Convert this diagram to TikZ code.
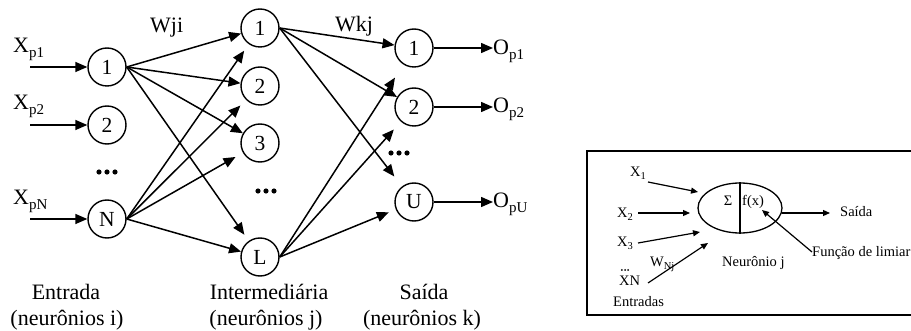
\documentclass[tikz,border=0pt]{standalone}
\usepackage{fontspec}
\setmainfont{Liberation Serif}
\usetikzlibrary{arrows.meta,shapes.geometric}
\newcommand\lsub[1]{\raisebox{-5pt}{\fontsize{15}{15}\selectfont #1}}
\newcommand\ssub[1]{\raisebox{-3pt}{\fontsize{10.5}{10.5}\selectfont #1}}
\begin{document}
\begin{tikzpicture}[x=1pt,y=-1pt,
  neuron/.style={circle,draw,line width=1.4pt,minimum size=38pt,inner sep=0pt,font=\fontsize{21.5}{24}\selectfont},
  big/.style={font=\fontsize{22}{26}\selectfont,inner sep=0pt},
  small/.style={font=\fontsize{14.5}{17}\selectfont,inner sep=0pt},
  conn/.style={line width=1.5pt,-{Triangle[length=12pt,width=10pt]}},
  sconn/.style={line width=1.2pt,-{Triangle[length=7pt,width=6pt]}},
  tridots/.pic={\foreach \d in {-8,0,8} \fill (\d,0) circle (2.6pt);},
  smalldots/.pic={\foreach \d in {-3.2,0,3.2} \fill (\d,0) circle (1pt);}]
\useasboundingbox (0,0) rectangle (911,331);
% ---------- left network ----------
\node[neuron] (i1) at (107,67) {1};
\node[neuron] (i2) at (107,125) {2};
\node[neuron] (iN) at (107,219) {N};
\pic at (107,172) {tridots};
\node[neuron] (h1) at (260,28) {1};
\node[neuron] (h2) at (260,86) {2};
\node[neuron] (h3) at (260,143) {3};
\node[neuron] (hL) at (260,257) {L};
\pic at (266,191) {tridots};
\node[neuron] (o1) at (414,48) {1};
\node[neuron] (o2) at (414,107) {2};
\node[neuron] (oU) at (414,202) {U};
\pic at (399,153) {tridots};
% inputs
\coordinate (s1) at (30,67);
\coordinate (s2) at (30,125);
\coordinate (sN) at (30,219);
\draw[conn] (s1) -- (i1);
\draw[conn] (s2) -- (i2);
\draw[conn] (sN) -- (iN);
\node[big,anchor=base west] (lx1) at (13,53) {X\lsub{p1}};
\node[big,anchor=base west] (lx2) at (13,110) {X\lsub{p2}};
\node[big,anchor=base west] (lxN) at (13,205) {X\lsub{pN}};
% input -> hidden
\draw[conn] (i1.east) -- (h1);
\draw[conn] (i1.east) -- (h2);
\draw[conn] (i1.east) -- (h3);
\draw[conn,shorten >=7.5pt] (i1.east) -- (hL);
\draw[conn,shorten >=8pt] (iN.east) -- (h1);
\draw[conn,shorten >=8pt] (iN.east) -- (h2);
\draw[conn,shorten >=8.5pt] (iN.east) -- (h3);
\draw[conn] (iN.east) -- (hL);
% hidden -> output
\draw[conn] (h1.east) -- (o1);
\draw[conn] (h1.east) -- (o2);
\draw[conn,shorten >=12.5pt] (h1.east) -- (oU);
\draw[conn,shorten >=15.5pt] (hL.east) -- (o1);
\draw[conn,shorten >=10.5pt] (hL.east) -- (o2);
\draw[conn,shorten >=7.5pt] (hL.east) -- (oU);
% outputs
\coordinate (e1) at (493,48);
\coordinate (e2) at (493,107);
\coordinate (eU) at (493,202);
\draw[conn] (o1) -- (e1);
\draw[conn] (o2) -- (e2);
\draw[conn] (oU) -- (eU);
\node[big,anchor=base west] (lo1) at (493,55) {O\lsub{p1}};
\node[big,anchor=base west] (lo2) at (493,113) {O\lsub{p2}};
\node[big,anchor=base west] (loU) at (493,208) {O\lsub{pU}};
% weights
\node[big,anchor=base west] (wji) at (150,33) {Wji};
\node[big,anchor=base west] (wkj) at (335,32) {Wkj};
% bottom labels
\node[big,anchor=base] (t1) at (66,300) {Entrada};
\node[big,anchor=base] (t2) at (67,326) {(neurônios i)};
\node[big,anchor=base] (t3) at (269,300) {Intermediária};
\node[big,anchor=base] (t4) at (266,326) {(neurônios j)};
\node[big,anchor=base] (t5) at (424,300) {Saída};
\node[big,anchor=base] (t6) at (422,326) {(neurônios k)};
% ---------- right box ----------
\draw[line width=1.3pt] (587,151) rectangle (914,315);
\node[draw,ellipse,line width=1.3pt,minimum width=84pt,minimum height=50pt,inner sep=0pt] (nj) at (740,208) {};
\draw[line width=1.3pt] (nj.north) -- (nj.south);
\node[small,anchor=base] (sig) at (728,206) {Σ};
\node[small,anchor=base west] (fx) at (742,206) {f(x)};
\node[small,anchor=base west] (x1) at (630,177) {X\ssub{1}};
\node[small,anchor=base west] (x2) at (617,218) {X\ssub{2}};
\node[small,anchor=base west] (x3) at (617,247) {X\ssub{3}};
\pic at (625,270) {smalldots};
\node[small,anchor=base west] (xn) at (619,286) {XN};
\node[small,anchor=base west] (wnj) at (650,267) {W\ssub{Nj}};
\node[small,anchor=base west] (ent) at (613,307) {Entradas};
\node[small,anchor=base west] (nlab) at (722,267) {Neurônio j};
\node[small,anchor=base west] (sai) at (840,217) {Saída};
\node[small,anchor=base west] (flim) at (812,257) {Função de limiar};
\coordinate (a1s) at (648,182); \coordinate (a1e) at (698,192);
\coordinate (a2s) at (638,213); \coordinate (a2e) at (690,213);
\coordinate (a3s) at (638,243); \coordinate (a3e) at (700,232);
\coordinate (a4s) at (648,283); \coordinate (a4e) at (708,243);
\coordinate (aos) at (782,213); \coordinate (aoe) at (830,213);
\coordinate (afs) at (812,252); \coordinate (afe) at (762,210);
\draw[sconn] (a1s) -- (a1e);
\draw[sconn] (a2s) -- (a2e);
\draw[sconn] (a3s) -- (a3e);
\draw[sconn] (a4s) -- (a4e);
\draw[sconn] (aos) -- (aoe);
\draw[sconn] (afs) -- (afe);
\end{tikzpicture}
\end{document}
